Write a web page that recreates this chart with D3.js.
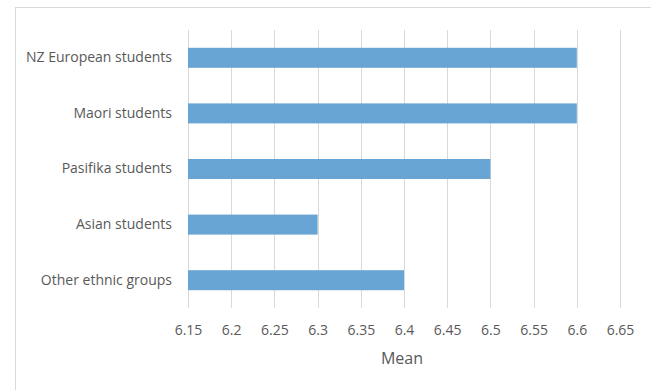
<!DOCTYPE html>
<html>
<head>
<meta charset="utf-8">
<script src="https://cdn.jsdelivr.net/npm/d3@7/dist/d3.min.js"></script>
<style>
  html, body { margin: 0; padding: 0; background: #fff; }
  svg { display: block; }
  text { font-family: "Open Sans", Lato, sans-serif; fill: #595959; }
</style>
</head>
<body>
<svg id="chart" width="651" height="390"></svg>
<script>
// Mean score by ethnic group
const categories = ["NZ European students", "Maori students", "Pasifika students", "Asian students", "Other ethnic groups"];
const means = [6.6, 6.6, 6.5, 6.3, 6.4];
const xTicks = [6.15, 6.2, 6.25, 6.3, 6.35, 6.4, 6.45, 6.5, 6.55, 6.6, 6.65];
const xTitle = "Mean";

const W = 651, H = 390;
const plot = { left: 188, right: 620, top: 30, bottom: 308 };
const font = "'Open Sans', Lato, sans-serif";
const svg = d3.select("#chart");

// chart area frame
svg.append("rect")
  .attr("x", 15.5).attr("y", 7.5)
  .attr("width", W).attr("height", H)
  .attr("fill", "#fff").attr("stroke", "#d9d9d9").attr("stroke-width", 1);

const x = d3.scaleLinear().domain([6.15, 6.65]).range([plot.left, plot.right]);
const y = d3.scaleBand().domain(categories).range([plot.top, plot.bottom]).paddingInner(0.64).paddingOuter(0.32);

// vertical gridlines
svg.append("g").selectAll("line").data(xTicks).join("line")
  .attr("x1", d => Math.round(x(d)) + 0.5).attr("x2", d => Math.round(x(d)) + 0.5)
  .attr("y1", plot.top).attr("y2", plot.bottom)
  .attr("stroke", "#d9d9d9").attr("stroke-width", 1);

// bars
svg.append("g").selectAll("rect").data(categories).join("rect")
  .attr("x", x(6.15))
  .attr("y", d => y(d))
  .attr("width", (d, i) => x(means[i]) - x(6.15))
  .attr("height", y.bandwidth())
  .attr("fill", "#68a5d5");

// x tick labels
const xAxis = d3.axisBottom(x).tickValues(xTicks).tickFormat(d3.format("")).tickSize(0).tickPadding(0);
const gx = svg.append("g").attr("transform", `translate(0,${plot.bottom + 27})`).call(xAxis);
gx.select(".domain").remove();
gx.selectAll("text").attr("font-size", 14).attr("dy", 0).style("font-family", font).attr("fill", "#595959");

// category labels
const yAxis = d3.axisLeft(y).tickSize(0).tickPadding(0);
const gy = svg.append("g").attr("transform", `translate(${172},0)`).call(yAxis);
gy.select(".domain").remove();
gy.selectAll("text").attr("font-size", 14).style("font-family", font).attr("fill", "#595959");

// axis title
svg.append("text")
  .attr("x", (plot.left + plot.right) / 2 - 2)
  .attr("y", 364)
  .attr("text-anchor", "middle")
  .attr("font-size", 16)
  .style("font-family", font)
  .text(xTitle);
</script>
</body>
</html>
